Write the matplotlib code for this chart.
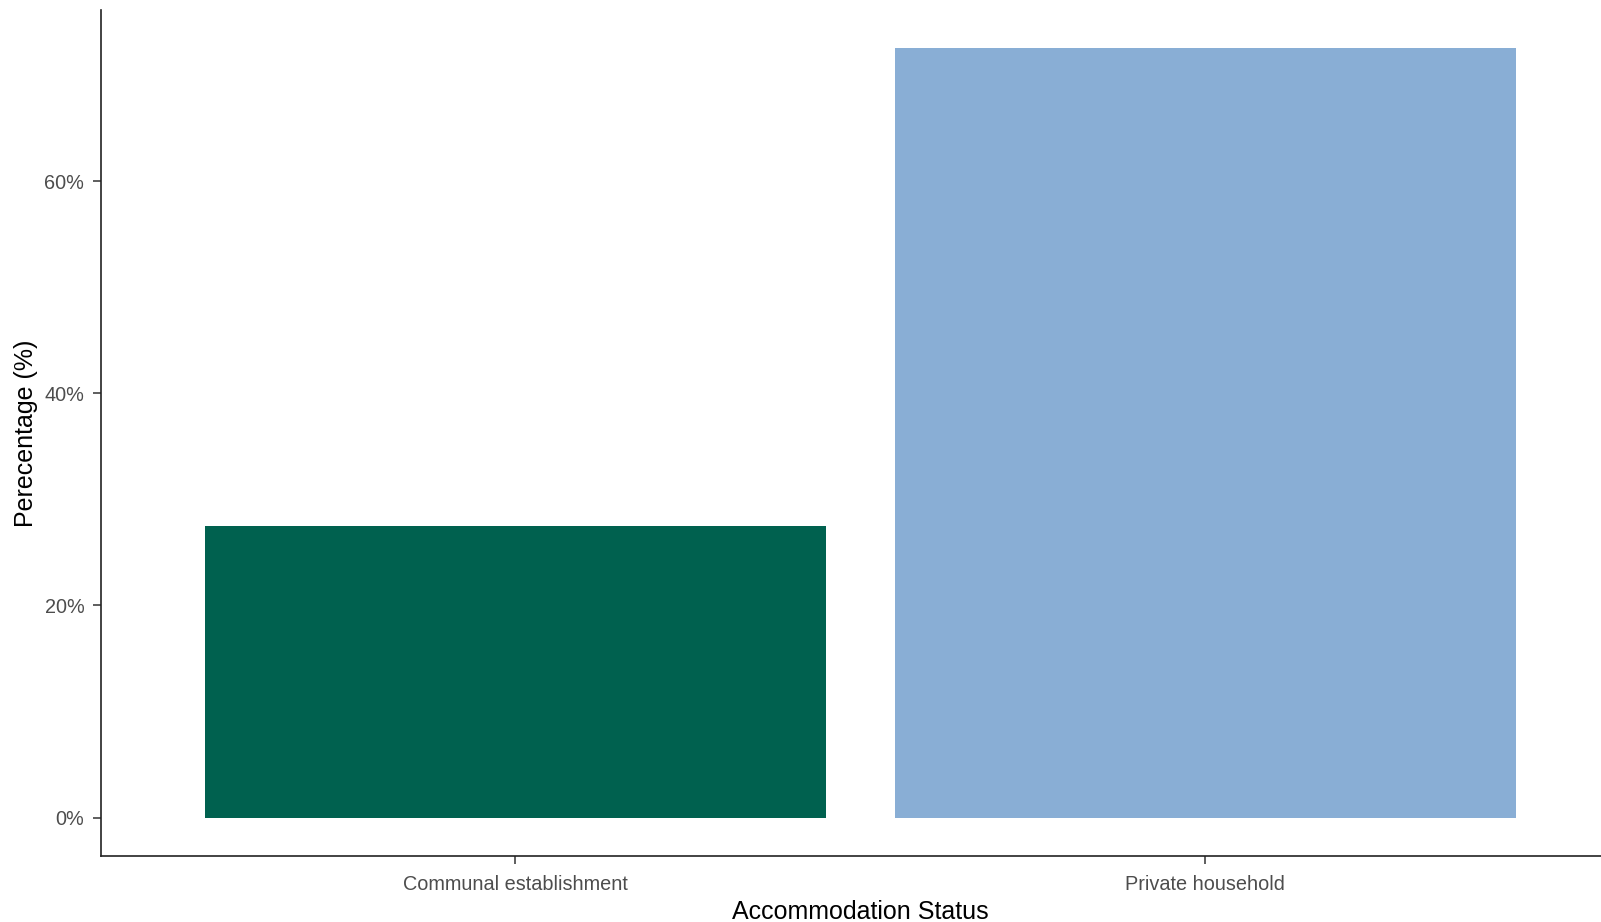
import matplotlib
matplotlib.use("Agg")
import matplotlib.pyplot as plt
from matplotlib.ticker import PercentFormatter

categories = ["Communal establishment", "Private household"]
percent = [27.5, 72.5]
colors = ["#00614f", "#89aed5"]
yticks = [0, 20, 40, 60]

plt.rcParams["font.family"] = ["Liberation Sans", "DejaVu Sans"]

W, H = 1601, 922
fig = plt.figure(figsize=(W / 100, H / 100), dpi=100)
# the panel runs a little past the right edge of the picture, as in the original
ax = fig.add_axes([101 / W, 66 / H, 1518 / W, (856 - 10) / H])

x = list(range(1, len(categories) + 1))
ax.bar(x, percent, width=0.9, color=colors)

ymax = max(percent)
ax.set_ylim(-0.05 * ymax, 1.05 * ymax)
ax.set_xlim(0.4, len(categories) + 0.6)
ax.set_xticks(x)
ax.set_xticklabels(categories)
ax.set_yticks(yticks)
ax.yaxis.set_major_formatter(PercentFormatter(decimals=0))

for s in ("top", "right"):
    ax.spines[s].set_visible(False)
for s in ("left", "bottom"):
    ax.spines[s].set_linewidth(1.2)
    ax.spines[s].set_color("#222222")

ax.tick_params(axis="both", length=6, width=1.1, color="#333333",
               labelcolor="#4d4d4d", labelsize=14.3)
ax.tick_params(axis="x", pad=8)
ax.tick_params(axis="y", pad=6)

ax.set_xlabel("Accommodation Status", fontsize=18, color="black", labelpad=4)
ax.set_ylabel("Perecentage (%)", fontsize=18, color="black", labelpad=5)

fig.savefig("out.png", dpi=100)
